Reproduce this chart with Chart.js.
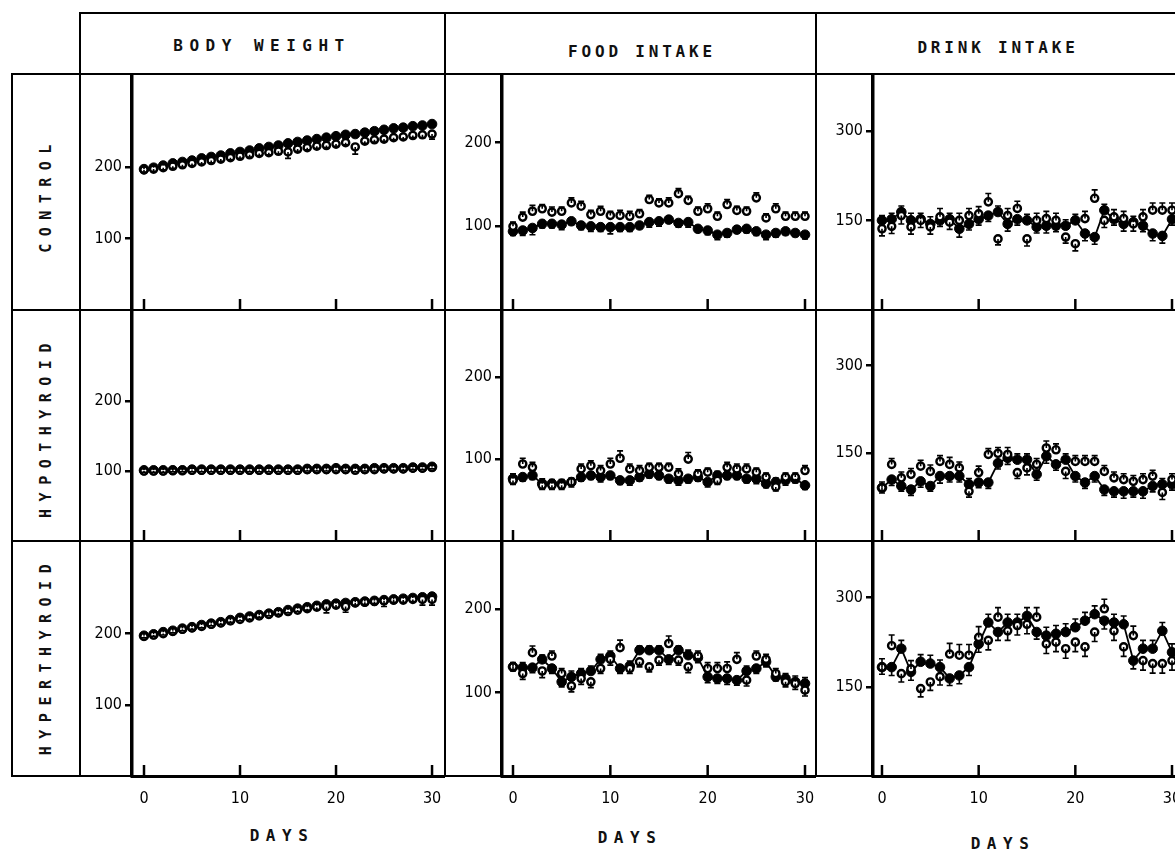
<!DOCTYPE html>
<html><head><meta charset="utf-8">
<script src="https://cdn.jsdelivr.net/npm/chart.js@4.4.1/dist/chart.umd.min.js"></script>
<style>
html,body{margin:0;padding:0;background:#fff;width:1175px;height:851px;overflow:hidden;}
#wrap{position:relative;width:1175px;height:851px;}
.ln{position:absolute;background:#000;}
.hdr{position:absolute;font-family:'DejaVu Sans Mono',monospace;font-weight:bold;font-size:16px;letter-spacing:6.5px;white-space:nowrap;transform:translate(-50%,-50%);color:#111;}
.hdr.tight{letter-spacing:3.8px;}
.rl{position:absolute;font-family:'DejaVu Sans Mono',monospace;font-weight:bold;font-size:15px;letter-spacing:7.5px;white-space:nowrap;transform:translate(-50%,-50%) rotate(-90deg);color:#111;}
canvas{position:absolute;}
</style></head>
<body><div id="wrap">
<div class="ln" style="left:80px;top:12px;width:1095px;height:2px"></div>
<div class="ln" style="left:79px;top:12px;width:2px;height:765px"></div>
<div class="ln" style="left:12px;top:73px;width:1163px;height:2px"></div>
<div class="ln" style="left:11px;top:73px;width:2px;height:704px"></div>
<div class="ln" style="left:12px;top:309px;width:1163px;height:2px"></div>
<div class="ln" style="left:12px;top:540px;width:1163px;height:2px"></div>
<div class="ln" style="left:12px;top:775px;width:1163px;height:2px"></div>
<div class="ln" style="left:444px;top:12px;width:2px;height:765px"></div>
<div class="ln" style="left:815px;top:12px;width:2px;height:765px"></div>

<div class="hdr" style="left:262px;top:45px">BODY WEIGHT</div>
<div class="hdr tight" style="left:642px;top:51px">FOOD INTAKE</div>
<div class="hdr tight" style="left:998px;top:47px">DRINK INTAKE</div>
<div class="rl" style="left:46px;top:195px">CONTROL</div>
<div class="rl" style="left:46px;top:427px">HYPOTHYROID</div>
<div class="rl" style="left:46px;top:656px">HYPERTHYROID</div>
<div class="hdr" style="left:282px;top:835px">DAYS</div>
<div class="hdr" style="left:630px;top:837px">DAYS</div>
<div class="hdr" style="left:1003px;top:843px">DAYS</div>
</div>
<script>
// ---------- data ----------
const days = [0,1,2,3,4,5,6,7,8,9,10,11,12,13,14,15,16,17,18,19,20,21,22,23,24,25,26,27,28,29,30];
const dayTicks = [0,10,20,30];
const bwTicks = [100,200];
const foodTicks = [100,200];
const drinkTicks = [150,300];

// BODY WEIGHT
const bwCtrlFilled = [197,199,202,205,207,209,212,214,216,219,221,223,226,228,230,233,235,237,239,241,243,245,246,248,250,252,254,255,257,258,260];
const bwCtrlOpen   = [196,197,199,201,203,205,207,209,211,213,215,217,219,220,222,221,225,227,229,230,232,234,228,236,238,239,241,242,244,245,246];
const bwHypoFilled = [101,101,101,101,101,102,102,102,102,102,102,102,102,102,102,102,102,103,103,103,104,103,103,103,104,104,104,104,105,105,106];
const bwHypoOpen   = [100,100,100,101,101,101,101,101,101,101,101,101,101,101,101,101,101,102,102,102,102,102,101,102,102,103,103,103,104,104,105];
const bwHyperFilled= [197,199,202,204,207,209,212,214,216,219,222,224,226,228,230,233,235,237,239,241,242,243,244,245,246,247,248,249,250,251,252];
const bwHyperOpen  = [196,198,200,203,206,208,210,213,215,218,220,222,225,227,229,231,233,235,237,238,240,238,243,244,245,246,247,247,248,248,248];

// FOOD INTAKE
const foodCtrlFilled = [94,95,98,103,103,102,106,101,100,99,99,99,99,101,105,106,108,104,105,97,95,90,92,96,97,94,90,92,94,92,90];
const foodCtrlOpen   = [100,111,118,121,117,118,128,124,114,118,113,113,112,115,132,128,128,139,131,118,121,112,126,119,118,134,110,121,112,112,112];
const foodHypoFilled = [76,78,80,70,70,70,72,78,80,78,80,74,74,78,82,80,76,74,76,78,72,80,80,80,76,76,70,72,74,76,68];
const foodHypoOpen   = [74,94,90,68,68,68,72,88,92,86,94,101,88,86,90,90,90,82,100,82,84,74,90,88,88,84,78,66,78,78,86];
const foodHyperFilled= [131,130,130,140,129,113,119,123,126,140,144,129,132,151,151,151,140,151,145,142,119,117,117,115,126,129,137,119,117,113,111];
const foodHyperOpen  = [131,123,148,126,144,123,108,117,113,129,140,154,129,137,131,139,159,139,131,144,129,129,129,140,115,144,140,123,113,111,103];

// DRINK INTAKE
const drinkCtrlFilled = [150,152,164,150,152,144,150,152,136,144,152,158,164,144,152,150,139,141,141,141,150,128,122,167,152,144,147,141,128,124,152];
const drinkCtrlOpen   = [136,140,158,139,150,139,156,147,150,158,161,181,119,158,170,119,150,153,150,122,111,153,187,150,156,153,144,156,167,167,167];
const drinkHypoFilled = [91,105,94,88,102,94,111,111,111,97,100,100,133,142,139,139,114,145,131,139,111,100,111,88,85,85,85,85,94,97,97];
const drinkHypoOpen   = [91,131,108,114,128,119,136,131,125,85,117,148,150,148,117,125,131,159,156,119,136,136,136,119,108,105,102,105,111,83,105];
const drinkHyperFilled= [183,183,214,175,192,189,183,164,169,183,222,258,242,258,258,269,242,236,239,242,250,261,272,261,258,255,194,214,214,244,208];
const drinkHyperOpen  = [183,219,172,180,147,158,167,205,203,203,233,228,267,244,253,255,267,222,225,214,225,217,242,281,244,217,236,194,189,189,194];

// standard errors (one-sided bars)
const bwCtrlFilledErr = [3,3,3,3,3,3,3,3,3,3,3,3,3,3,3,3,3,3,3,3,3,3,3,3,3,3,3,3,3,3,3];
const bwCtrlOpenErr   = [3,3,3,3,3,3,3,3,3,3,3,3,3,3,4,9,3,3,3,3,3,3,10,3,3,3,3,3,3,4,7];
const bwHypoFilledErr = [2,2,2,2,2,2,2,2,2,2,2,2,2,2,2,2,2,2,2,2,2,2,2,2,2,2,2,2,2,2,2];
const bwHypoOpenErr   = [2,2,2,2,2,2,2,2,2,2,2,2,2,2,2,2,2,2,2,2,2,2,2,2,2,2,2,2,2,2,2];
const bwHyperFilledErr= [3,3,3,3,3,3,3,3,3,3,3,3,3,3,3,3,3,3,3,3,3,3,3,3,3,3,3,3,3,3,3];
const bwHyperOpenErr  = [2,2,2,2,2,2,2,2,2,2,2,2,2,2,2,2,2,2,3,9,3,8,3,3,3,8,3,3,3,8,8];
const foodCtrlFilledErr = [5,6,8,5,5,6,4,5,6,5,8,5,5,4,6,6,4,5,6,4,5,6,5,4,5,5,6,5,4,4,5];
const foodCtrlOpenErr   = [5,6,7,5,6,5,6,6,5,6,5,6,6,5,5,5,6,6,5,5,6,5,6,5,5,6,5,6,5,5,5];
const foodHypoFilledErr = [6,5,5,6,5,5,6,5,5,6,5,5,6,5,5,5,5,6,5,5,6,5,5,5,5,6,5,5,6,5,5];
const foodHypoOpenErr   = [5,7,6,5,5,5,5,6,6,6,7,9,6,6,5,5,5,6,8,5,5,5,6,6,6,5,5,5,5,5,6];
const foodHyperFilledErr= [5,6,6,5,6,6,7,6,6,6,6,6,6,5,5,5,6,5,6,6,7,6,7,6,6,6,6,5,6,7,7];
const foodHyperOpenErr  = [5,7,8,8,6,6,7,7,7,6,7,9,6,6,6,6,9,6,7,6,7,7,8,8,7,6,6,6,6,7,7];
const drinkCtrlFilledErr = [8,10,10,12,10,12,10,10,14,10,10,10,10,12,10,10,10,12,10,10,10,12,12,10,10,12,10,10,12,12,10];
const drinkCtrlOpenErr   = [12,12,14,12,12,12,14,12,12,12,12,14,10,12,12,12,12,12,12,10,12,12,14,12,12,12,12,12,12,12,12];
const drinkHypoFilledErr = [9,10,9,10,10,9,12,10,10,10,9,10,10,11,10,10,10,12,10,10,10,10,10,10,10,12,10,12,10,10,10];
const drinkHypoOpenErr   = [10,10,10,10,10,11,10,12,10,10,11,10,10,12,10,12,10,12,10,12,10,10,10,10,10,10,10,10,10,12,10];
const drinkHyperFilledErr= [12,14,14,14,12,14,12,12,14,14,14,14,14,14,14,14,12,14,14,14,14,14,14,14,14,14,14,14,14,14,14];
const drinkHyperOpenErr  = [14,18,14,14,14,14,14,18,18,18,18,16,16,16,16,16,16,16,16,16,16,16,16,16,16,16,16,16,16,16,16];

// ---------- layout (not data) ----------
const FONT = "'Liberation Sans Narrow','DejaVu Sans Condensed','Liberation Sans',sans-serif";
const cols = [
  {left:80,  axisW:52, right:445,  xMin:-1.25, xMax:31.35, yMax:330, yTicks:bwTicks},
  {left:445, axisW:57, right:816,  xMin:-1.13, xMax:31.13, yMax:282, yTicks:foodTicks},
  {left:816, axisW:57, right:1175, xMin:-0.93, xMax:30.31, yMax:395, yTicks:drinkTicks}
];
const rows = [{top:74,h:236},{top:310,h:231},{top:541,h:235}];
const BOTTOM_AXIS_H = 60;

const panels = [
  [bwCtrlFilled,bwCtrlOpen,bwCtrlFilledErr,bwCtrlOpenErr, 0,0],
  [foodCtrlFilled,foodCtrlOpen,foodCtrlFilledErr,foodCtrlOpenErr, 1,0],
  [drinkCtrlFilled,drinkCtrlOpen,drinkCtrlFilledErr,drinkCtrlOpenErr, 2,0],
  [bwHypoFilled,bwHypoOpen,bwHypoFilledErr,bwHypoOpenErr, 0,1],
  [foodHypoFilled,foodHypoOpen,foodHypoFilledErr,foodHypoOpenErr, 1,1],
  [drinkHypoFilled,drinkHypoOpen,drinkHypoFilledErr,drinkHypoOpenErr, 2,1],
  [bwHyperFilled,bwHyperOpen,bwHyperFilledErr,bwHyperOpenErr, 0,2],
  [foodHyperFilled,foodHyperOpen,foodHyperFilledErr,foodHyperOpenErr, 1,2],
  [drinkHyperFilled,drinkHyperOpen,drinkHyperFilledErr,drinkHyperOpenErr, 2,2]
];

const errPlugin = {
  id:'errbars',
  afterDatasetsDraw(chart, args, opts){
    if(!opts || !opts.filled) return;
    const {ctx} = chart;
    const ys = chart.scales.y, xs = chart.scales.x;
    const f = opts.filled, o = opts.open;
    const sets = [[f,o,opts.fErr,false],[o,f,opts.oErr,true]];
    ctx.save();
    ctx.strokeStyle='#000'; ctx.lineWidth=1.6;
    sets.forEach(([vals,other,errs,isOpen])=>{
      vals.forEach((v,i)=>{
        const up = isOpen ? v>=other[i] : v>other[i];
        const end = up ? v+errs[i] : v-errs[i];
        const x = xs.getPixelForValue(days[i]);
        const y0 = ys.getPixelForValue(v), y1 = ys.getPixelForValue(end);
        ctx.beginPath(); ctx.moveTo(x,y0); ctx.lineTo(x,y1);
        ctx.moveTo(x-3,y1); ctx.lineTo(x+3,y1); ctx.stroke();
      });
    });
    ctx.restore();
  }
};
const innerTicks = {
  id:'innerTicks',
  afterDraw(chart){
    const {ctx, chartArea} = chart; const xs = chart.scales.x;
    ctx.save(); ctx.strokeStyle='#000'; ctx.lineWidth=2.5;
    dayTicks.forEach(d=>{
      const x = xs.getPixelForValue(d);
      ctx.beginPath(); ctx.moveTo(x,chartArea.bottom); ctx.lineTo(x,chartArea.bottom-11); ctx.stroke();
    });
    ctx.restore();
  }
};

const wrap = document.getElementById('wrap');
panels.forEach(([filled,open,fErr,oErr,ci,ri])=>{
  const c = cols[ci], r = rows[ri];
  const isBottom = ri===2;
  const cv = document.createElement('canvas');
  const w = c.right-c.left, h = r.h + (isBottom?BOTTOM_AXIS_H:0);
  cv.width=w; cv.height=h;
  cv.style.left=c.left+'px'; cv.style.top=r.top+'px';
  cv.style.width=w+'px'; cv.style.height=h+'px';
  wrap.appendChild(cv);
  new Chart(cv.getContext('2d'),{
    type:'line',
    data:{datasets:[
      {data:days.map((d,i)=>({x:d,y:filled[i]})), borderColor:'#000', borderWidth:1.8, tension:0,
       pointRadius:4.8, pointHoverRadius:0, pointBackgroundColor:'#000', pointBorderColor:'#000', pointBorderWidth:1, clip:false, order:2},
      {data:days.map((d,i)=>({x:d,y:open[i]})), showLine:false, borderColor:'#000',
       pointRadius:3.6, pointHoverRadius:0, pointBackgroundColor:'#fff', pointBorderColor:'#000', pointBorderWidth:2.4, clip:false, order:1}
    ]},
    options:{
      animation:false, responsive:false, maintainAspectRatio:false, devicePixelRatio:1,
      events:[],
      layout:{padding:0, autoPadding:false},
      plugins:{legend:{display:false}, tooltip:{enabled:false},
               errbars:{filled:filled, open:open, fErr:fErr, oErr:oErr}},
      scales:{
        x:{type:'linear', min:c.xMin, max:c.xMax, display:isBottom,
           afterBuildTicks:s=>{s.ticks=dayTicks.map(v=>({value:v}));},
           afterFit:s=>{s.height=isBottom?BOTTOM_AXIS_H:0; s.paddingLeft=0; s.paddingRight=0; s.paddingTop=0; s.paddingBottom=0;},
           grid:{display:true, drawOnChartArea:false, drawTicks:false},
           border:{display:true, width:3, color:'#000'},
           ticks:{color:'#000', font:{family:FONT,size:16}, padding:13, maxRotation:0, autoSkip:false}},
        y:{type:'linear', min:0, max:c.yMax,
           afterBuildTicks:s=>{s.ticks=c.yTicks.map(v=>({value:v}));},
           afterFit:s=>{s.width=c.axisW; s.paddingTop=0; s.paddingBottom=0; s.paddingLeft=0; s.paddingRight=0;},
           grid:{display:true, drawOnChartArea:false, drawTicks:true, tickLength:7, lineWidth:2.5, color:'#000'},
           border:{display:true, width:3.5, color:'#000'},
           ticks:{color:'#000', font:{family:FONT,size:16}, padding:3, autoSkip:false}}
      }
    },
    plugins:[errPlugin, innerTicks]
  });
});
</script>
</body></html>
